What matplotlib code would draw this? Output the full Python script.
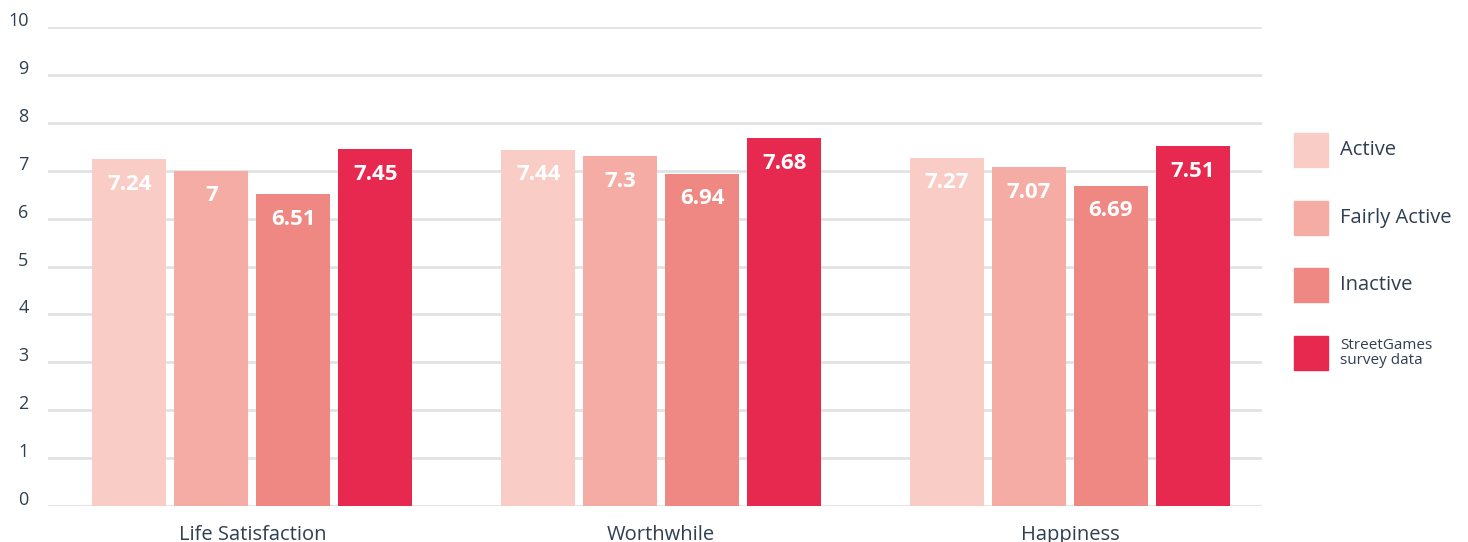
import numpy as np
import matplotlib.pyplot as plt
from matplotlib.patches import Rectangle
from matplotlib.transforms import ScaledTranslation

plt.rcParams['font.family'] = ['Open Sans', 'DejaVu Sans']

# wellbeing scores by activity level
categories = ['Life Satisfaction', 'Worthwhile', 'Happiness']
groups = ['Active', 'Fairly Active', 'Inactive', 'StreetGames\nsurvey data']
active = [7.24, 7.44, 7.27]
fairly_active = [7, 7.3, 7.07]
inactive = [6.51, 6.94, 6.69]
streetgames = [7.45, 7.68, 7.51]
value_labels = [
    ['7.24', '7.44', '7.27'],
    ['7', '7.3', '7.07'],
    ['6.51', '6.94', '6.69'],
    ['7.45', '7.68', '7.51'],
]
colors = ['#f9cdc6', '#f5aca5', '#ef8883', '#e8294f']
text_color = '#2f3e50'

series = [active, fairly_active, inactive, streetgames]

fig = plt.figure(figsize=(14.68, 5.42), dpi=100)
ax = fig.add_axes([48 / 1468, 36 / 542, (1262 - 48) / 1468, (506 - 27) / 542])

x = np.arange(len(categories))
step = 0.2006
width = 0.181
for i, vals in enumerate(series):
    pos = x + (i - 1.5) * step
    ax.bar(pos, vals, width=width, color=colors[i], zorder=2)
    for xp, v, lab in zip(pos, vals, value_labels[i]):
        ax.annotate(lab, (xp, v), xytext=(0, -18), textcoords='offset points',
                    ha='center', va='center', color='white',
                    fontsize=16, fontweight='bold', zorder=3)

ax.set_xlim(-0.5, 2.47)
ax.set_ylim(0, 10)
ax.set_yticks(range(0, 11))
ax.set_xticks(x)
ax.set_xticklabels(categories, fontsize=14.5)
ax.grid(axis='y', color='#e2e2e2', linewidth=2, zorder=0)
ax.set_axisbelow(True)
for s in ax.spines.values():
    s.set_visible(False)
ax.tick_params(axis='both', length=0, labelcolor=text_color)
ax.tick_params(axis='y', pad=14, labelsize=13)
ax.tick_params(axis='x', pad=13.5)
for lab in ax.get_yticklabels():
    lab.set_transform(lab.get_transform() + ScaledTranslation(0, 8 / 100, fig.dpi_scale_trans))
for lab in ax.get_yticklabels() + ax.get_xticklabels():
    lab.set_clip_on(False)

# legend drawn by hand on the right
W, H = 1468, 542
for i, (name, c) in enumerate(zip(groups, colors)):
    cy = 150 + i * 67.7
    fig.add_artist(Rectangle((1294 / W, 1 - (cy + 17) / H), 34 / W, 34 / H,
                             transform=fig.transFigure, color=c))
    fs = 11 if '\n' in name else 14.5
    fig.text(1340 / W, 1 - cy / H, name, ha='left', va='center',
             fontsize=fs, color=text_color, linespacing=1.0)

fig.savefig('out.png', dpi=100)
